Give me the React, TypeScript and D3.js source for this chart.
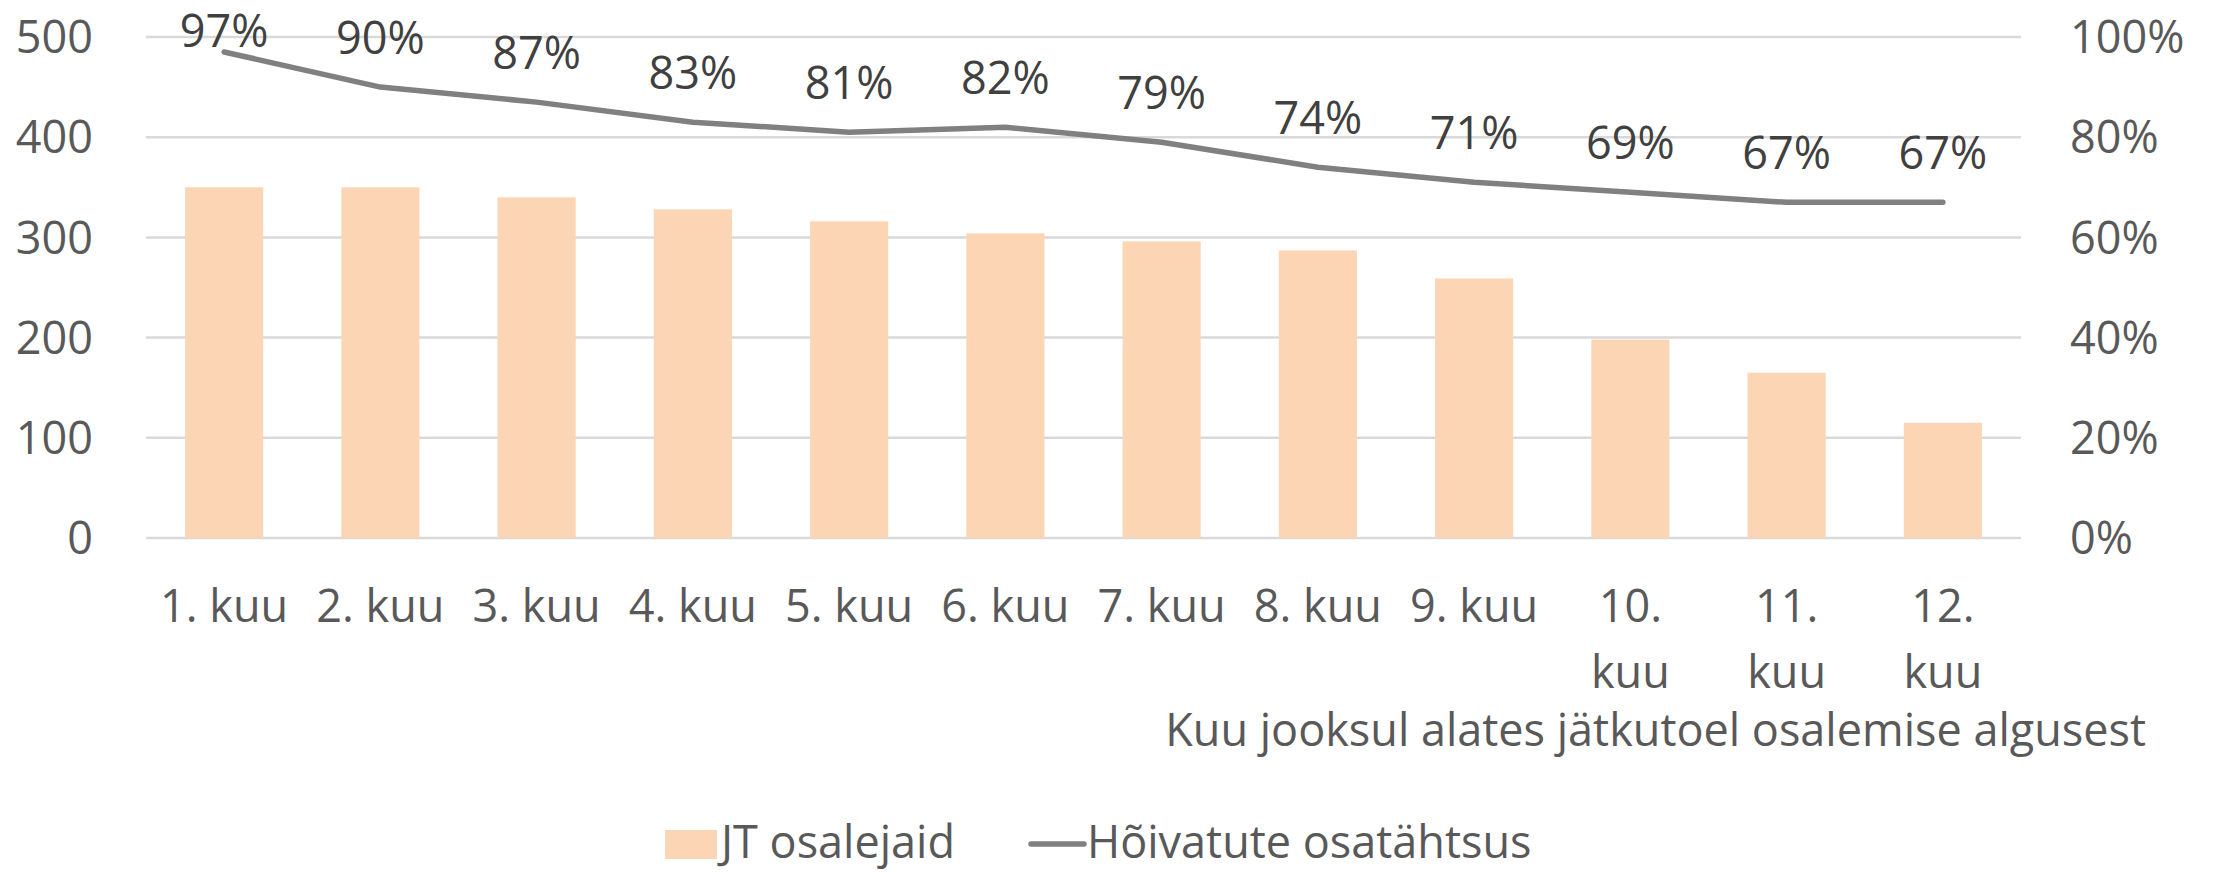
import React, {useEffect, useRef} from 'react';
import * as d3 from 'd3';

const months = ['1. kuu', '2. kuu', '3. kuu', '4. kuu', '5. kuu', '6. kuu', '7. kuu', '8. kuu', '9. kuu', '10. kuu', '11. kuu', '12. kuu'];
const participants = [350, 350, 340, 328, 316, 304, 296, 287, 259, 198, 165, 115];
const employedShare = [0.97, 0.90, 0.87, 0.83, 0.81, 0.82, 0.79, 0.74, 0.71, 0.69, 0.67, 0.67];
const leftTicks = [0, 100, 200, 300, 400, 500];
const rightTicks = [0, 0.2, 0.4, 0.6, 0.8, 1];
const xTitle = 'Kuu jooksul alates jätkutoel osalemise algusest';
const barName = 'JT osalejaid';
const lineName = 'Hõivatute osatähtsus';

const FONT = '"Open Sans", Lato, sans-serif';
const AXIS_COLOR = '#595959';
const LABEL_COLOR = '#404040';
const BAR_COLOR = '#FCD5B5';
const LINE_COLOR = '#808080';
const GRID_COLOR = '#D9D9D9';

function App() {
  const chartRef = useRef(null);

  const width = 2218;
  const height = 872;
  const plot = {left: 146, right: 2021, top: 37, bottom: 538};

  useEffect(() => {
    const svg = d3.select(chartRef.current);
    svg.selectAll('*').remove();

    const xScale = d3.scaleBand()
      .domain(months)
      .range([plot.left, plot.right])
      .paddingInner(0.5)
      .paddingOuter(0.25);
    const yLeft = d3.scaleLinear().domain([0, 500]).range([plot.bottom, plot.top]);
    const yRight = d3.scaleLinear().domain([0, 1]).range([plot.bottom, plot.top]);

    // grid
    svg.append('g')
      .selectAll('line')
      .data(leftTicks)
      .enter()
      .append('line')
      .attr('x1', plot.left)
      .attr('x2', plot.right)
      .attr('y1', d => yLeft(d))
      .attr('y2', d => yLeft(d))
      .attr('stroke', GRID_COLOR)
      .attr('stroke-width', 2.5);

    // left axis labels
    svg.append('g')
      .selectAll('text')
      .data(leftTicks)
      .enter()
      .append('text')
      .attr('x', 93)
      .attr('y', d => yLeft(d))
      .attr('dy', '0.36em')
      .attr('text-anchor', 'end')
      .attr('font-family', FONT)
      .attr('font-size', 45)
      .attr('fill', AXIS_COLOR)
      .text(d => d);

    // right axis labels
    svg.append('g')
      .selectAll('text')
      .data(rightTicks)
      .enter()
      .append('text')
      .attr('x', 2070)
      .attr('y', d => yRight(d))
      .attr('dy', '0.36em')
      .attr('text-anchor', 'start')
      .attr('font-family', FONT)
      .attr('font-size', 45)
      .attr('fill', AXIS_COLOR)
      .text(d => d3.format('.0%')(d));

    // bars
    svg.append('g')
      .selectAll('rect')
      .data(participants)
      .enter()
      .append('rect')
      .attr('x', (d, i) => xScale(months[i]) as number)
      .attr('y', d => yLeft(d))
      .attr('width', xScale.bandwidth())
      .attr('height', d => plot.bottom - yLeft(d))
      .attr('fill', BAR_COLOR);

    const cx = (i: number) => (xScale(months[i]) as number) + xScale.bandwidth() / 2;

    // line
    const line = d3.line<number>()
      .x((d, i) => cx(i))
      .y(d => yRight(d));
    svg.append('path')
      .datum(employedShare)
      .attr('d', line)
      .attr('fill', 'none')
      .attr('stroke', LINE_COLOR)
      .attr('stroke-width', 5.5)
      .attr('stroke-linejoin', 'round')
      .attr('stroke-linecap', 'round');

    // data labels (kept inside the chart area at the top)
    svg.append('g')
      .selectAll('text')
      .data(employedShare)
      .enter()
      .append('text')
      .attr('x', (d, i) => cx(i))
      .attr('y', d => Math.max(yRight(d) - 33, 47))
      .attr('text-anchor', 'middle')
      .attr('font-family', FONT)
      .attr('font-size', 45)
      .attr('fill', LABEL_COLOR)
      .text(d => d3.format('.0%')(d));

    // category labels, long ones wrap onto two lines
    const cats = svg.append('g');
    months.forEach((m, i) => {
      const lines = m.length > 6 ? [m.slice(0, m.indexOf(' ')), m.slice(m.indexOf(' ') + 1)] : [m];
      lines.forEach((t, j) => {
        cats.append('text')
          .attr('x', cx(i))
          .attr('y', 622 + j * 66)
          .attr('text-anchor', 'middle')
          .attr('font-family', FONT)
          .attr('font-size', 45)
          .attr('fill', AXIS_COLOR)
          .text(t);
      });
    });

    // axis title
    svg.append('text')
      .attr('x', 2146)
      .attr('y', 746)
      .attr('text-anchor', 'end')
      .attr('font-family', FONT)
      .attr('font-size', 45)
      .attr('fill', AXIS_COLOR)
      .text(xTitle);

    // legend
    const legend = svg.append('g');
    legend.append('rect')
      .attr('x', 665)
      .attr('y', 830)
      .attr('width', 52)
      .attr('height', 29)
      .attr('fill', BAR_COLOR);
    legend.append('text')
      .attr('x', 721)
      .attr('y', 858)
      .attr('font-family', FONT)
      .attr('font-size', 45)
      .attr('fill', AXIS_COLOR)
      .text(barName);
    legend.append('line')
      .attr('x1', 1031)
      .attr('x2', 1084)
      .attr('y1', 844)
      .attr('y2', 844)
      .attr('stroke', LINE_COLOR)
      .attr('stroke-width', 5.5)
      .attr('stroke-linecap', 'round');
    legend.append('text')
      .attr('x', 1087)
      .attr('y', 858)
      .attr('font-family', FONT)
      .attr('font-size', 45)
      .attr('fill', AXIS_COLOR)
      .text(lineName);
  });

  return (
    <svg ref={chartRef} width={width} height={height}
      style={{position: 'absolute', left: 0, top: 0, background: '#fff'}}/>
  );
}

export default App;
